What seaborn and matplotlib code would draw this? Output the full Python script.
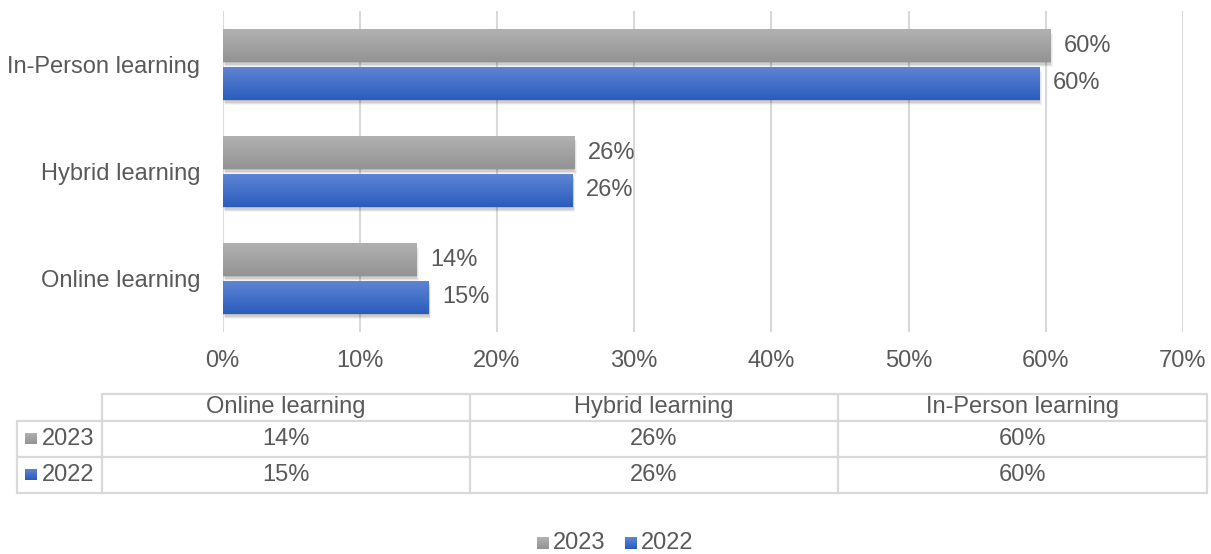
import numpy as np
import pandas as pd
import matplotlib
matplotlib.use("Agg")
import matplotlib.pyplot as plt
import seaborn as sns
from matplotlib.lines import Line2D
from matplotlib import patheffects as pe

# ---- data ----
categories = ["In-Person learning", "Hybrid learning", "Online learning"]
years = ["2023", "2022"]
values_2023 = [60.3, 25.6, 14.1]
values_2022 = [59.5, 25.5, 15.0]
x_ticks = [0, 10, 20, 30, 40, 50, 60, 70]
table_columns = ["Online learning", "Hybrid learning", "In-Person learning"]

df = pd.DataFrame({
    "category": categories * 2,
    "year": [years[0]] * 3 + [years[1]] * 3,
    "value": values_2023 + values_2022,
})

TEXT = "#595959"
GRID = "#d9d9d9"
FONT = "Liberation Sans"
FS = 17
# top/bottom colours of the vertical bar gradients
grad = {
    "2023": ("#b2b2b2", "#939393"),
    "2022": ("#5f86d4", "#2b5cbd"),
}
base = {"2023": "#a5a5a5", "2022": "#4472c4"}

sns.set_theme(style="white")
plt.rcParams["font.family"] = [FONT, "DejaVu Sans"]

W, H = 1211, 554
fig = plt.figure(figsize=(W / 100, H / 100), dpi=100)


def fx(x):
    return x / W


def fy(y):
    return 1 - y / H


ax_left, ax_right, ax_top, ax_bottom = 222.5, 1183, 11, 332
ax = fig.add_axes([fx(ax_left), fy(ax_bottom),
                   (ax_right - ax_left) / W, (ax_bottom - ax_top) / H])

sns.barplot(data=df, y="category", x="value", hue="year",
            order=categories, hue_order=years, palette=base,
            orient="h", width=0.71, gap=0.13, saturation=1,
            legend=False, ax=ax, linewidth=0)

# vertical gradient fill plus a soft drop shadow for each bar
n_cat = len(categories)
for i, patch in enumerate(ax.patches):
    year = years[i // n_cat]
    x0, y0 = patch.get_x(), patch.get_y()
    w, h = patch.get_width(), patch.get_height()
    effects = []
    for k, a in [(1, 0.10), (2, 0.09), (3, 0.07), (4, 0.04)]:
        effects.append(pe.SimplePatchShadow(offset=(k * 0.5, -k * 0.9),
                                            shadow_rgbFace="black", alpha=a))
    effects.append(pe.Normal())
    patch.set_path_effects(effects)
    top, bot = grad[year]
    cmap = matplotlib.colors.LinearSegmentedColormap.from_list("g", [top, bot])
    img = np.linspace(0, 1, 64).reshape(-1, 1)
    im = ax.imshow(img, cmap=cmap, aspect="auto",
                   extent=(x0, x0 + w, y0 + h, y0), zorder=patch.get_zorder() + 0.1,
                   interpolation="bicubic")
    im.set_clip_path(patch)

ax.set_xlim(0, 70)
ax.set_ylim(2.5, -0.5)

for container in ax.containers:
    ax.bar_label(container, labels=[f"{v:.0f}%" for v in container.datavalues],
                 padding=10, color=TEXT, fontsize=FS)

ax.set_xticks(x_ticks)
ax.set_xticklabels([f"{t}%" for t in x_ticks])
ax.grid(axis="x", color=GRID, linewidth=1.5)
ax.set_axisbelow(True)
for s in ax.spines.values():
    s.set_visible(False)
ax.tick_params(axis="x", length=0, pad=13, labelsize=FS, labelcolor=TEXT)
ax.tick_params(axis="y", length=0, pad=16, labelsize=FS, labelcolor=TEXT)
ax.set_xlabel("")
ax.set_ylabel("")

# ---- data table beneath the chart ----
lw = 1.6
xs = [17, 102, 470, 838, 1207]
ys = [394, 421, 457, 493]


def hline(y, x0, x1):
    fig.add_artist(Line2D([fx(x0), fx(x1)], [fy(y), fy(y)], color=GRID, lw=lw))


def vline(x, y0, y1):
    fig.add_artist(Line2D([fx(x), fx(x)], [fy(y0), fy(y1)], color=GRID, lw=lw))


hline(ys[0], xs[1], xs[-1])
for y in ys[1:]:
    hline(y, xs[0], xs[-1])
vline(xs[0], ys[1], ys[-1])
for x in xs[1:]:
    vline(x, ys[0], ys[-1])

cell_centers = [(xs[i + 1] + xs[i + 2]) / 2 for i in range(3)]
for cx, name in zip(cell_centers, table_columns):
    fig.text(fx(cx), fy((ys[0] + ys[1]) / 2), name, ha="center", va="center",
             color=TEXT, fontsize=FS)

lookup = {
    "2023": dict(zip(categories, values_2023)),
    "2022": dict(zip(categories, values_2022)),
}


def key_square(x, y, size, year):
    top, bot = grad[year]
    ax_k = fig.add_axes([fx(x), fy(y + size), size / W, size / H])
    cmap = matplotlib.colors.LinearSegmentedColormap.from_list("k", [top, bot])
    ax_k.imshow(np.linspace(0, 1, 16).reshape(-1, 1), cmap=cmap, aspect="auto")
    ax_k.set_axis_off()


for r, year in enumerate(years):
    yc = (ys[r + 1] + ys[r + 2]) / 2
    key_square(25, yc - 6.5, 12, year)
    fig.text(fx(42), fy(yc), year, ha="left", va="center", color=TEXT, fontsize=FS)
    for cx, name in zip(cell_centers, table_columns):
        fig.text(fx(cx), fy(yc), f"{lookup[year][name]:.0f}%", ha="center",
                 va="center", color=TEXT, fontsize=FS)

# ---- legend at the bottom ----
key_square(537, 537, 12, "2023")
fig.text(fx(553), fy(543), "2023", ha="left", va="center", color=TEXT, fontsize=FS)
key_square(625, 537, 12, "2022")
fig.text(fx(641), fy(543), "2022", ha="left", va="center", color=TEXT, fontsize=FS)

fig.savefig("out.png", dpi=100, facecolor="white")
